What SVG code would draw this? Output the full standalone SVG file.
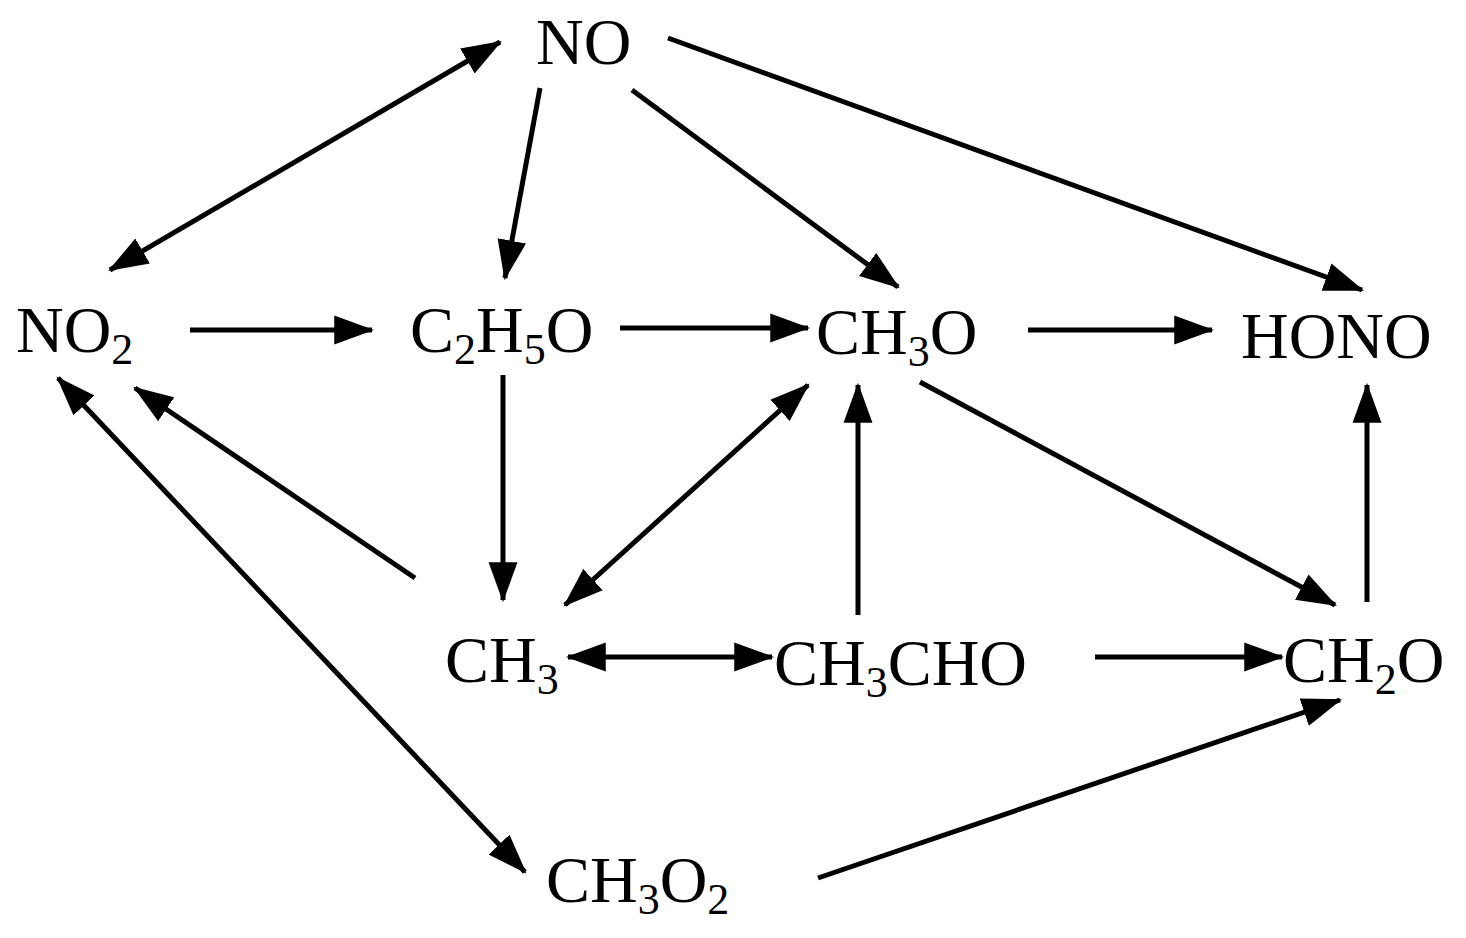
<svg xmlns="http://www.w3.org/2000/svg" width="1466" height="938" viewBox="0 0 1466 938">
<style>
text{font-family:"Liberation Serif","Times New Roman",serif;font-size:66px;fill:#000}
.s{font-size:44px}
#edges line{stroke:#000;stroke-width:5;marker-end:url(#ah)}
#edges line.b{marker-start:url(#ah)}
</style>
<defs>
<marker id="ah" markerUnits="userSpaceOnUse" markerWidth="40" markerHeight="30" refX="34" refY="13" orient="auto-start-reverse" viewBox="0 0 36 26">
<path d="M0,0 L36,13 L0,26 z" fill="#000"/>
</marker>
</defs>
<rect width="1466" height="938" fill="#fff"/>
<g id="edges">
<line class="b" x1="110" y1="270" x2="500" y2="42"/>
<line x1="540" y1="88" x2="505" y2="278"/>
<line x1="632" y1="90" x2="898" y2="287"/>
<line x1="668" y1="38" x2="1362" y2="290"/>
<line x1="190" y1="330" x2="372" y2="330"/>
<line x1="620" y1="328" x2="808" y2="328"/>
<line x1="1028" y1="330" x2="1212" y2="330"/>
<line x1="503" y1="375" x2="503" y2="600"/>
<line class="b" x1="808" y1="385" x2="565" y2="605"/>
<line x1="858" y1="615" x2="858" y2="385"/>
<line x1="920" y1="382" x2="1335" y2="605"/>
<line x1="1367" y1="602" x2="1367" y2="385"/>
<line x1="415" y1="578" x2="135" y2="388"/>
<line class="b" x1="58" y1="378" x2="525" y2="872"/>
<line class="b" x1="568" y1="657" x2="772" y2="657"/>
<line x1="1095" y1="657" x2="1282" y2="657"/>
<line x1="818" y1="878" x2="1340" y2="700"/>
</g>
<g id="NO"><text x="536" y="64">NO</text></g>
<g id="NO2"><text x="16" y="352">NO<tspan class="s" dy="12">2</tspan></text></g>
<g id="C2H5O"><text x="410" y="352">C<tspan class="s" dy="12">2</tspan><tspan dy="-12">H</tspan><tspan class="s" dy="12">5</tspan><tspan dy="-12">O</tspan></text></g>
<g id="CH3O"><text x="816" y="354">CH<tspan class="s" dy="12">3</tspan><tspan dy="-12">O</tspan></text></g>
<g id="HONO"><text x="1241" y="358">HONO</text></g>
<g id="CH3"><text x="445" y="682">CH<tspan class="s" dy="12">3</tspan></text></g>
<g id="CH3CHO"><text x="774" y="685">CH<tspan class="s" dy="12">3</tspan><tspan dy="-12">CHO</tspan></text></g>
<g id="CH2O"><text x="1283" y="682">CH<tspan class="s" dy="12">2</tspan><tspan dy="-12">O</tspan></text></g>
<g id="CH3O2"><text x="546" y="902">CH<tspan class="s" dy="12">3</tspan><tspan dy="-12">O</tspan><tspan class="s" dy="12">2</tspan></text></g>
</svg>
